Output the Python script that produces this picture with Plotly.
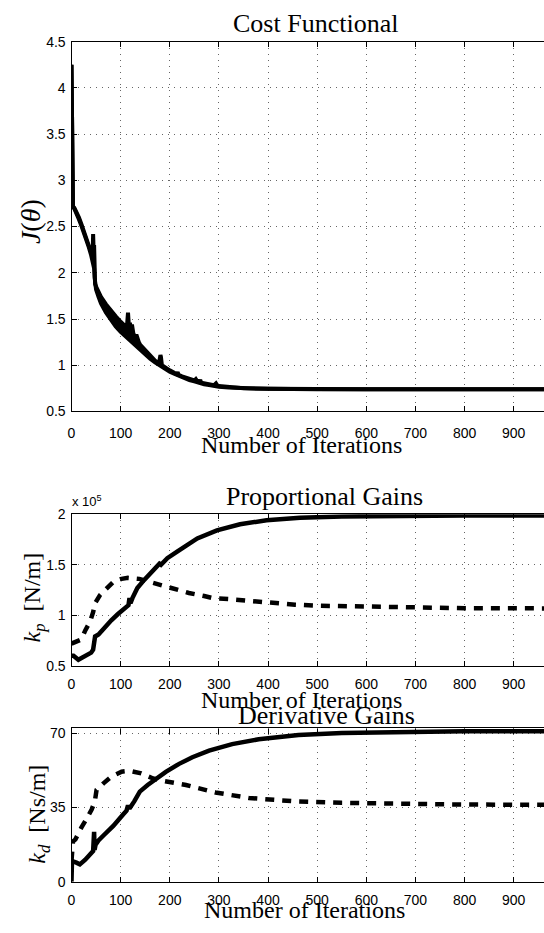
import plotly.graph_objects as go

# ---------------- data ----------------
cost_iter = [0, 1, 2, 3, 6, 10, 15, 20, 25, 30, 35, 40, 43, 44, 45, 46, 47, 48, 50, 55,
             60, 70, 80, 90, 100, 110, 113, 115, 117, 119, 121, 123, 126, 130, 132, 134,
             137, 140, 150, 160, 170, 178, 181, 182, 184, 190, 200, 210, 214, 216, 218,
             225, 240, 250, 253, 256, 260, 262, 264, 270, 280, 290, 294, 297, 300, 320,
             350, 400, 500, 600, 700, 800, 900, 962]
cost_lower = [4.25, 3.40, 2.85, 2.72, 2.69, 2.65, 2.58, 2.51, 2.44, 2.36, 2.28, 2.19, 2.12,
              2.10, 2.08, 2.05, 1.95, 1.86, 1.82, 1.74, 1.67, 1.57, 1.49, 1.42, 1.36, 1.31,
              1.30, 1.29, 1.28, 1.27, 1.26, 1.25, 1.24, 1.22, 1.21, 1.20, 1.185, 1.17, 1.12,
              1.07, 1.03, 1.00, 0.99, 0.985, 0.98, 0.96, 0.93, 0.905, 0.895, 0.89, 0.885,
              0.87, 0.84, 0.825, 0.82, 0.815, 0.81, 0.805, 0.80, 0.795, 0.785, 0.775, 0.772,
              0.77, 0.768, 0.758, 0.75, 0.745, 0.74, 0.74, 0.74, 0.74, 0.74, 0.74]
cost_upper = [4.25, 3.40, 2.85, 2.72, 2.70, 2.66, 2.60, 2.53, 2.46, 2.38, 2.30, 2.22, 2.16,
              2.42, 2.25, 2.30, 2.00, 1.88, 1.85, 1.79, 1.74, 1.66, 1.59, 1.53, 1.47, 1.42,
              1.43, 1.57, 1.41, 1.46, 1.36, 1.44, 1.34, 1.31, 1.33, 1.29, 1.25, 1.22, 1.16,
              1.10, 1.05, 1.02, 1.11, 1.09, 1.00, 0.975, 0.945, 0.915, 0.905, 0.925, 0.895,
              0.88, 0.85, 0.835, 0.85, 0.825, 0.82, 0.84, 0.81, 0.805, 0.795, 0.785, 0.805,
              0.78, 0.775, 0.762, 0.752, 0.746, 0.74, 0.74, 0.74, 0.74, 0.74, 0.74]

kp_iter_solid = [0, 4, 14, 20, 28, 34, 40, 44, 46, 48, 55, 67, 81, 94, 105, 111, 116, 118,
                 120, 124, 134, 148, 162, 175, 179, 182, 195, 215, 236, 256, 296, 343, 397,
                 465, 550, 650, 800, 962]
kp_solid = [0.60, 0.60, 0.56, 0.575, 0.60, 0.62, 0.63, 0.66, 0.74, 0.79, 0.81, 0.88, 0.95,
            1.01, 1.05, 1.07, 1.10, 1.17, 1.12, 1.17, 1.27, 1.35, 1.42, 1.48, 1.51, 1.50,
            1.565, 1.63, 1.69, 1.76, 1.84, 1.90, 1.94, 1.965, 1.978, 1.984, 1.987, 1.988]
kp_iter_dash = [0, 5, 11, 20, 28, 38, 44, 48, 58, 71, 85, 102, 115, 138, 159, 186, 213, 239,
                270, 287, 320, 361, 414, 455, 500, 600, 700, 800, 962]
kp_dash = [0.72, 0.73, 0.74, 0.76, 0.85, 0.94, 1.03, 1.12, 1.20, 1.27, 1.33, 1.36, 1.37,
           1.36, 1.33, 1.29, 1.26, 1.22, 1.19, 1.17, 1.16, 1.14, 1.12, 1.105, 1.095, 1.085,
           1.075, 1.07, 1.068]

kd_iter_solid = [0, 1, 3, 10, 17, 28, 38, 44, 46, 47, 49, 55, 65, 85, 105, 112, 115, 118,
                 128, 139, 155, 172, 192, 219, 246, 280, 327, 381, 462, 550, 650, 800, 962]
kd_solid = [0, 10, 9.6, 9.0, 8.2, 10.4, 12.8, 14.5, 23.5, 15, 17.5, 19.5, 21.8, 26.3, 31.7,
            33.5, 36, 34.5, 38, 42.5, 45.6, 48.7, 51.8, 55.6, 58.7, 61.8, 64.9, 67.2, 69.2,
            70.2, 70.7, 71.0, 71.0]
kd_iter_dash = [0, 3, 8, 14, 20, 28, 35, 41, 45, 48, 51, 58, 65, 81, 102, 118, 142, 166,
                186, 233, 293, 361, 455, 550, 650, 800, 962]
kd_dash = [10, 19, 20, 23, 25.5, 28.6, 31, 34, 36.5, 38.7, 43.3, 45, 46.4, 49.5, 51.9, 52.3,
           51.1, 48.7, 47.6, 45.6, 42.1, 39.5, 37.9, 37.2, 36.7, 36.4, 36.3]

x_ticks = [0, 100, 200, 300, 400, 500, 600, 700, 800, 900]
cost_ticks = [0.5, 1, 1.5, 2, 2.5, 3, 3.5, 4, 4.5]
kp_ticks = [0.5, 1, 1.5, 2]
kd_ticks = [0, 35, 70]

# ---------------- figure ----------------
W, H = 544, 933
BLACK = "#000000"
LW = 4.5

fig = go.Figure()
# Cost functional (thick oscillating band: lower and upper envelope)
fig.add_trace(go.Scatter(x=cost_iter, y=cost_lower, mode="lines",
                         line=dict(color=BLACK, width=4), xaxis="x", yaxis="y",
                         showlegend=False, hoverinfo="skip"))
fig.add_trace(go.Scatter(x=cost_iter, y=cost_upper, mode="lines",
                         line=dict(color=BLACK, width=4), fill="tonexty",
                         fillcolor=BLACK, xaxis="x", yaxis="y",
                         showlegend=False, hoverinfo="skip"))
# Proportional gains
fig.add_trace(go.Scatter(x=kp_iter_solid, y=kp_solid, mode="lines",
                         line=dict(color=BLACK, width=LW), xaxis="x2", yaxis="y2",
                         showlegend=False))
fig.add_trace(go.Scatter(x=kp_iter_dash, y=kp_dash, mode="lines",
                         line=dict(color=BLACK, width=LW, dash="9px,8px"),
                         xaxis="x2", yaxis="y2", showlegend=False))
# Derivative gains
fig.add_trace(go.Scatter(x=kd_iter_solid, y=kd_solid, mode="lines",
                         line=dict(color=BLACK, width=LW), xaxis="x3", yaxis="y3",
                         showlegend=False))
fig.add_trace(go.Scatter(x=kd_iter_dash, y=kd_dash, mode="lines",
                         line=dict(color=BLACK, width=LW, dash="9px,8px"),
                         xaxis="x3", yaxis="y3", showlegend=False))


def py(pix):
    return 1 - pix / H


x_dom = [68 / W, 1.0]
tickfont = dict(family="Liberation Sans, Arial", size=14, color=BLACK)
grid = dict(showgrid=True, gridcolor="#666666", gridwidth=1, griddash="1px,5px")


def xax(anchor, standoff):
    return dict(domain=x_dom, range=[0, (W - 68) / 0.495], tickvals=x_ticks,
                ticks="inside", ticklen=5, tickcolor=BLACK, showline=True,
                linecolor=BLACK, linewidth=1.2, mirror="ticks", zeroline=False,
                tickfont=tickfont, anchor=anchor, ticklabelstandoff=standoff, **grid)


def yax(anchor, dom, rng, tv):
    return dict(domain=dom, range=rng, tickvals=tv, ticks="inside", ticklen=5,
                tickcolor=BLACK, showline=True, linecolor=BLACK, linewidth=1.2,
                mirror=False, zeroline=False, tickfont=tickfont, anchor=anchor,
                ticklabelstandoff=2, **grid)


serif = "Liberation Serif, Times New Roman"
ann = []


def text(t, x, y, size, angle=0, xanchor="center"):
    ann.append(dict(text=t, x=x / W, y=py(y), xref="paper", yref="paper",
                    showarrow=False, font=dict(family=serif, size=size, color=BLACK),
                    textangle=angle, xanchor=xanchor, yanchor="middle"))


text("Cost Functional", 314, 16, 26)
text("Number of Iterations", 300, 445, 24)
text("Proportional Gains", 323, 497, 26)
text("Number of Iterations", 300, 704, 24)
text("Derivative Gains", 325, 720, 26)
text("Number of Iterations", 303, 918, 24)
text("<i>J</i>(<i>θ</i>)", 26, 217, 28, angle=-90)
text("<i>k</i><sub><i>p</i></sub>\u00a0\u00a0[N/m]", 30, 600, 24, angle=-90)
text("<i>k</i><sub><i>d</i></sub>\u00a0\u00a0[Ns/m]", 35, 820, 24, angle=-90)
ann.append(dict(text="x 10<sup>5</sup>", x=66 / W, y=py(502), xref="paper",
                yref="paper", showarrow=False, xanchor="left", yanchor="middle",
                font=dict(family="Liberation Sans, Arial", size=13, color=BLACK)))

fig.update_layout(
    width=W, height=H, margin=dict(l=0, r=0, t=0, b=0),
    paper_bgcolor="white", plot_bgcolor="white", showlegend=False,
    xaxis=xax("y", 9), xaxis2=xax("y2", 5), xaxis3=xax("y3", 5),
    yaxis=yax("x", [py(410.5), py(34.3)], [0.5, 4.5], cost_ticks),
    yaxis2=yax("x2", [py(669.3), py(515)], [0.5, 2.0], kp_ticks),
    yaxis3=yax("x3", [py(889), py(733)], [0, 72.3], kd_ticks),
    annotations=ann,
)

fig.write_html("out.html")
